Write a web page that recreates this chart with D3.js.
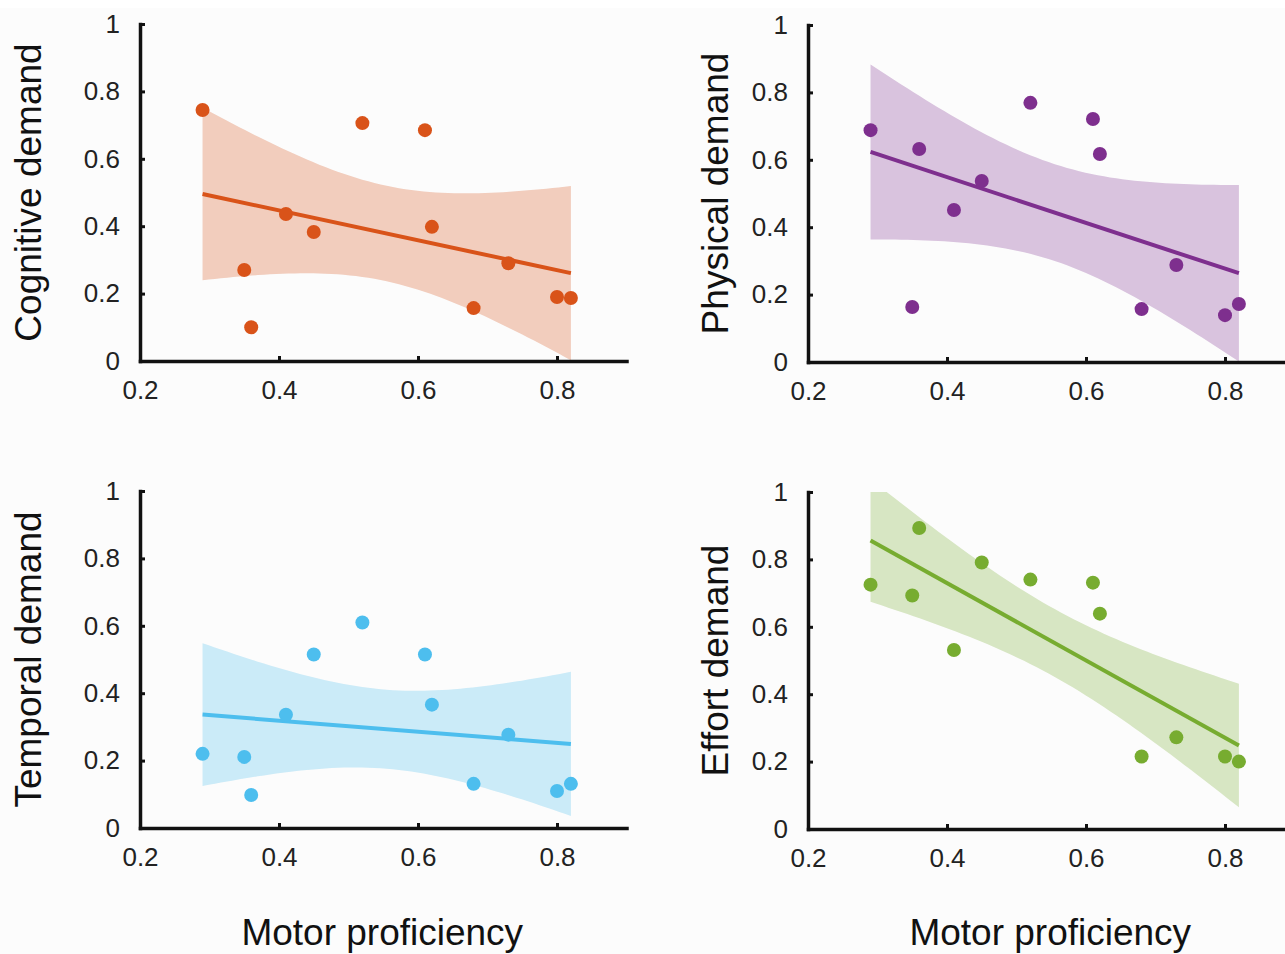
<!DOCTYPE html>
<html>
<head>
<meta charset="utf-8">
<script src="https://cdn.jsdelivr.net/npm/d3@7"></script>
<style>
  body { margin: 0; background: #fcfcfc; }
  svg { display: block; font-family: "Liberation Sans", Arial, sans-serif; }
</style>
</head>
<body>
<svg id="chart" width="1285" height="954"></svg>
<script>
// motor proficiency per participant (same for every panel)
var proficiency = [0.29, 0.35, 0.36, 0.41, 0.45, 0.52, 0.61, 0.62, 0.68, 0.73, 0.80, 0.82];

// workload scores
var cognitive = [0.745, 0.27, 0.10, 0.436, 0.383, 0.706, 0.685, 0.398, 0.157, 0.29, 0.19, 0.187];
var physical  = [0.688, 0.163, 0.632, 0.451, 0.537, 0.769, 0.721, 0.617, 0.157, 0.288, 0.139, 0.172];
var temporal  = [0.220, 0.211, 0.098, 0.336, 0.515, 0.610, 0.515, 0.366, 0.131, 0.277, 0.110, 0.131];
var effort    = [0.725, 0.693, 0.893, 0.531, 0.791, 0.740, 0.731, 0.639, 0.215, 0.272, 0.215, 0.200];

var xTicks = [0.2, 0.4, 0.6, 0.8];
var yTicks = [0, 0.2, 0.4, 0.6, 0.8, 1];
var xLabel = "Motor proficiency";

var panels = [
  {values: cognitive, label: "Cognitive demand", color: "#d95319", left: 140, bottom: 361, labelX: 41, showX: false},
  {values: physical,  label: "Physical demand",  color: "#7e2f8e", left: 808, bottom: 362, labelX: 728, showX: false},
  {values: temporal,  label: "Temporal demand",  color: "#4dbeee", left: 140, bottom: 828, labelX: 41, showX: true},
  {values: effort,    label: "Effort demand",    color: "#77ac30", left: 808, bottom: 829, labelX: 728, showX: true}
];

var plotW = 486.5, plotH = 337;
var tCrit = 2.228; // t(0.975, df=10)

var svg = d3.select("#chart");
svg.append("rect").attr("width", 1285).attr("height", 8).attr("fill", "#fff");

// least squares fit + 95% confidence band of the mean
function fit(xs, ys) {
  var n = xs.length, mx = d3.mean(xs), my = d3.mean(ys);
  var sxx = d3.sum(xs, function(x) { return (x - mx) * (x - mx); });
  var sxy = d3.sum(xs, function(x, i) { return (x - mx) * (ys[i] - my); });
  var b = sxy / sxx, a = my - b * mx;
  var sse = d3.sum(xs, function(x, i) { var r = ys[i] - (a + b * x); return r * r; });
  var s = Math.sqrt(sse / (n - 2));
  return {
    at: function(x) { return a + b * x; },
    half: function(x) { return tCrit * s * Math.sqrt(1 / n + (x - mx) * (x - mx) / sxx); }
  };
}

panels.forEach(function(p, k) {
  var x = d3.scaleLinear().domain([0.2, 0.9]).range([0, plotW]);
  var y = d3.scaleLinear().domain([0, 1]).range([plotH, 0]);

  var g = svg.append("g")
      .attr("transform", "translate(" + p.left + "," + (p.bottom - plotH) + ")");

  g.append("clipPath").attr("id", "clip" + k)
    .append("rect").attr("x", 0).attr("y", 0).attr("width", plotW).attr("height", plotH);

  var model = fit(proficiency, p.values);
  var x0 = d3.min(proficiency), x1 = d3.max(proficiency);
  var grid = d3.range(0, 61).map(function(i) { return x0 + (x1 - x0) * i / 60; });

  var band = d3.area()
      .x(function(d) { return x(d); })
      .y0(function(d) { return y(model.at(d) - model.half(d)); })
      .y1(function(d) { return y(model.at(d) + model.half(d)); });

  g.append("path")
      .datum(grid)
      .attr("clip-path", "url(#clip" + k + ")")
      .attr("fill", p.color)
      .attr("fill-opacity", 0.28)
      .attr("d", band);

  g.append("line")
      .attr("x1", x(x0)).attr("y1", y(model.at(x0)))
      .attr("x2", x(x1)).attr("y2", y(model.at(x1)))
      .attr("stroke", p.color)
      .attr("stroke-width", 4);

  g.selectAll("circle")
      .data(p.values)
      .enter().append("circle")
      .attr("cx", function(d, i) { return x(proficiency[i]); })
      .attr("cy", function(d) { return y(d); })
      .attr("r", 7)
      .attr("fill", p.color);

  var xAxis = d3.axisBottom(x).tickValues(xTicks).tickSizeInner(-5).tickSizeOuter(0)
      .tickPadding(20).tickFormat(d3.format("~g"));
  var yAxis = d3.axisLeft(y).tickValues(yTicks).tickSizeInner(-5).tickSizeOuter(0)
      .tickPadding(20).tickFormat(d3.format("~g"));

  var gx = g.append("g").attr("transform", "translate(0," + plotH + ")").call(xAxis);
  var gy = g.append("g").call(yAxis);

  [gx, gy].forEach(function(a) {
    a.select(".domain").attr("stroke", "#111").attr("stroke-width", 3.5).attr("stroke-linecap", "square");
    a.selectAll(".tick line").attr("stroke", "#111").attr("stroke-width", 3);
    a.selectAll(".tick text").attr("fill", "#222").style("font-size", "26px");
  });

  svg.append("text")
      .attr("transform", "translate(" + p.labelX + "," + (p.bottom - plotH / 2) + ") rotate(-90)")
      .attr("text-anchor", "middle")
      .attr("fill", "#111")
      .style("font-size", "37px")
      .text(p.label);

  if (p.showX) {
    svg.append("text")
        .attr("x", p.left + plotW / 2 - 1)
        .attr("y", 945)
        .attr("text-anchor", "middle")
        .attr("fill", "#111")
        .style("font-size", "37px")
        .text(xLabel);
  }
});
</script>
</body>
</html>
